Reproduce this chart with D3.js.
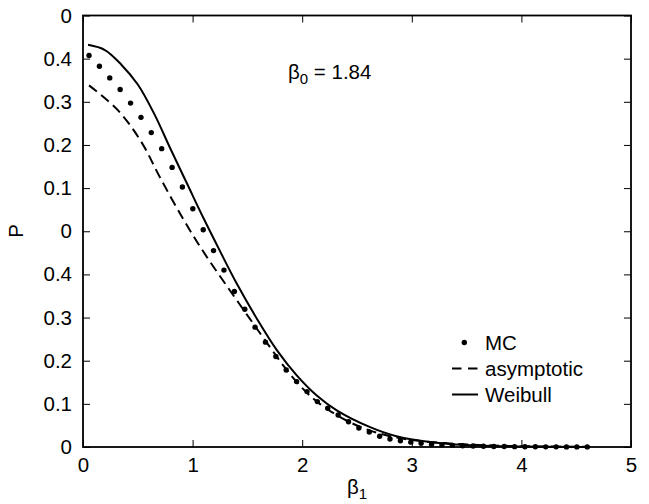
<!DOCTYPE html>
<html>
<head>
<meta charset="UTF-8">
<script src="https://cdn.jsdelivr.net/npm/d3@7/dist/d3.min.js"></script>
<style>
  * { margin: 0; padding: 0; }
  body { background: #fff; }
  text { font-family: "Liberation Sans", Arial, sans-serif; fill: #000; }
</style>
</head>
<body>
<svg id="chart" width="649" height="504"></svg>
<script>
// MC points
const mcBeta = [0.055, 0.150, 0.244, 0.339, 0.434, 0.529, 0.623, 0.718, 0.813, 0.907,
  1.002, 1.097, 1.191, 1.286, 1.381, 1.476, 1.570, 1.665, 1.760, 1.854,
  1.949, 2.044, 2.138, 2.233, 2.328, 2.423, 2.517, 2.612, 2.707, 2.801,
  2.896, 2.991, 3.085, 3.180, 3.275, 3.370, 3.464, 3.559, 3.654, 3.748,
  3.843, 3.938, 4.032, 4.127, 4.222, 4.317, 4.411, 4.506, 4.601];
const mcP = [0.4536, 0.4412, 0.4277, 0.4142, 0.3985, 0.3820, 0.3643, 0.3457, 0.3240, 0.3013,
  0.2761, 0.2517, 0.2276, 0.2050, 0.1802, 0.1597, 0.1389, 0.1215, 0.1048, 0.0893,
  0.0758, 0.0642, 0.0526, 0.0449, 0.0371, 0.0293, 0.0220, 0.0174, 0.0125, 0.0093,
  0.0072, 0.0056, 0.0043, 0.0033, 0.0025, 0.0019, 0.0014, 0.0011, 0.0008, 0.0006,
  0.0005, 0.0004, 0.0003, 0.0003, 0.0002, 0.0002, 0.0001, 0.0001, 0.0001];

// asymptotic curve
const asyBeta = [0.055, 0.32, 0.53, 0.70, 0.915, 1.105, 1.31, 1.52, 1.71, 1.83,
  1.98, 2.16, 2.40, 2.62, 2.90, 3.30, 3.80, 4.20, 4.60];
const asyP = [0.419, 0.390, 0.354, 0.313, 0.264, 0.225, 0.187, 0.149, 0.115, 0.094,
  0.071, 0.050, 0.031, 0.019, 0.010, 0.0045, 0.0015, 0.0006, 0.0002];

// Weibull curve
const weiBeta = [0.046, 0.20, 0.35, 0.50, 0.65, 0.80, 0.95, 1.10, 1.25, 1.40,
  1.585, 1.767, 1.95, 2.13, 2.315, 2.62, 2.86, 3.20, 3.60, 4.00, 4.60];
const weiP = [0.466, 0.460, 0.443, 0.420, 0.386, 0.345, 0.305, 0.265, 0.227, 0.190,
  0.149, 0.1125, 0.083, 0.060, 0.0425, 0.023, 0.0125, 0.0053, 0.0017, 0.0005, 0.0001];

const xTicks = [0, 1, 2, 3, 4, 5];
const yTicks = [0, 0.05, 0.1, 0.15, 0.2, 0.25, 0.3, 0.35, 0.4, 0.45, 0.5];
const yTickLabels = ["0", "0.1", "0.2", "0.3", "0.4", "0", "0.1", "0.2", "0.3", "0.4", "0"];

const legendNames = ["MC", "asymptotic", "Weibull"];

const svg = d3.select("#chart");
const margin = {top: 15.5, right: 18, bottom: 57, left: 83};
const width = 649 - margin.left - margin.right;
const height = 504 - margin.top - margin.bottom;
const fs = 20.5;

const g = svg.append("g").attr("transform", `translate(${margin.left},${margin.top})`);

const x = d3.scaleLinear().domain([0, 5]).range([0, width]);
const y = d3.scaleLinear().domain([0, 0.5]).range([height, 0]);

// axes, ticks pointing inward
function styleAxis(sel) {
  sel.select(".domain").remove();
  sel.selectAll(".tick line").attr("stroke", "#000").attr("stroke-width", 1);
  sel.selectAll(".tick text").attr("font-size", fs).attr("font-family", "Liberation Sans, Arial, sans-serif");
}

g.append("g").attr("transform", `translate(0,${height})`)
  .call(d3.axisBottom(x).tickValues(xTicks).tickFormat(d3.format("d"))
    .tickSizeInner(-7).tickSizeOuter(0).tickPadding(10))
  .call(styleAxis);

g.append("g")
  .call(d3.axisTop(x).tickValues(xTicks).tickFormat("").tickSizeInner(-7).tickSizeOuter(0))
  .call(styleAxis);

g.append("g")
  .call(d3.axisLeft(y).tickValues(yTicks).tickFormat((d, i) => yTickLabels[i])
    .tickSizeInner(-7).tickSizeOuter(0).tickPadding(11))
  .call(styleAxis);

g.append("g").attr("transform", `translate(${width},0)`)
  .call(d3.axisRight(y).tickValues(yTicks).tickFormat("").tickSizeInner(-7).tickSizeOuter(0))
  .call(styleAxis);

// frame
g.append("rect")
  .attr("width", width).attr("height", height)
  .attr("fill", "none").attr("stroke", "#000").attr("stroke-width", 1.8);

// curves
const line = d3.line()
  .x(d => x(d[0]))
  .y(d => y(d[1]))
  .curve(d3.curveCatmullRom.alpha(0.5));

g.append("path")
  .datum(weiBeta.map((b, i) => [b, weiP[i]]))
  .attr("d", line)
  .attr("fill", "none").attr("stroke", "#000").attr("stroke-width", 2);

g.append("path")
  .datum(asyBeta.map((b, i) => [b, asyP[i]]))
  .attr("d", line)
  .attr("fill", "none").attr("stroke", "#000").attr("stroke-width", 2)
  .attr("stroke-dasharray", "10,5.5");

g.append("g").selectAll("circle")
  .data(mcBeta.map((b, i) => [b, mcP[i]]))
  .enter().append("circle")
  .attr("cx", d => x(d[0]))
  .attr("cy", d => y(d[1]))
  .attr("r", 2.7)
  .attr("fill", "#000");

// annotation
const ann = svg.append("text").attr("x", 288).attr("y", 79).attr("font-size", fs);
ann.append("tspan").text("β");
ann.append("tspan").attr("font-size", 15).attr("dy", 5).text("0");
ann.append("tspan").attr("dy", -5).text(" = 1.84");

// axis titles
const xt = svg.append("text").attr("x", margin.left + width / 2).attr("y", 494)
  .attr("text-anchor", "middle").attr("font-size", fs);
xt.append("tspan").text("β");
xt.append("tspan").attr("font-size", 15).attr("dy", 5).text("1");

svg.append("text")
  .attr("transform", "translate(22.5,231) rotate(-90)")
  .attr("text-anchor", "middle").attr("font-size", fs).text("P");

// legend
const leg = svg.append("g").attr("transform", "translate(452,342.5)");
const rowH = 26;
leg.append("circle").attr("cx", 12.3).attr("cy", 0).attr("r", 2.7).attr("fill", "#000");
leg.append("line").attr("x1", 0).attr("x2", 26).attr("y1", rowH).attr("y2", rowH)
  .attr("stroke", "#000").attr("stroke-width", 2).attr("stroke-dasharray", "9.5,6.5");
leg.append("line").attr("x1", 0).attr("x2", 26).attr("y1", rowH * 2).attr("y2", rowH * 2)
  .attr("stroke", "#000").attr("stroke-width", 2);
leg.selectAll("text.lab").data(legendNames).enter().append("text")
  .attr("class", "lab")
  .attr("x", 33).attr("y", (d, i) => i * rowH + 7.3)
  .attr("font-size", fs).text(d => d);
</script>
</body>
</html>
